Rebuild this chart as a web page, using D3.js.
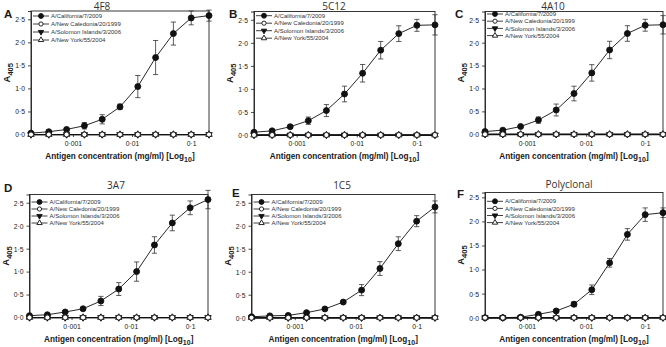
<!DOCTYPE html>
<html>
<head>
<meta charset="utf-8">
<script src="https://cdn.jsdelivr.net/npm/d3@7"></script>
<style>
  body { margin: 0; background: #fff; }
  svg { display: block; }
  text { font-family: "Liberation Sans", Arial, sans-serif; fill: #1a1a1a; }
  .title { font-family: "Open Sans", "Noto Sans", sans-serif; font-size: 10px; fill: #333; }
  .letter { font-weight: bold; font-size: 11.5px; }
  .axlabel { font-weight: bold; font-size: 8.2px; }
  .ylab { font-weight: bold; font-size: 9.5px; }
  .tick text { font-size: 6.8px; }
  .legend text { font-size: 6px; fill: #333; }
</style>
</head>
<body>
<div id="chart"></div>
<script>
// two-fold dilution series, mg/ml
var concentrations = [0.0001953125, 0.000390625, 0.00078125, 0.0015625, 0.003125, 0.00625, 0.0125, 0.025, 0.05, 0.1, 0.2];
var strains = ["A/California/7/2009", "A/New Caledonia/20/1999", "A/Solomon Islands/3/2006", "A/New York/55/2004"];
var antibodies = ["4F8", "5C12", "4A10", "3A7", "1C5", "Polyclonal"];
var panelLetters = ["A", "B", "C", "D", "E", "F"];

// A/California/7/2009 means and error per antibody
var california4F8 = [0.03, 0.06, 0.11, 0.19, 0.33, 0.60, 1.04, 1.67, 2.19, 2.53, 2.58];
var california4F8Err = [0.01, 0.02, 0.03, 0.07, 0.10, 0.06, 0.24, 0.37, 0.25, 0.15, 0.12];
var california5C12 = [0.06, 0.09, 0.18, 0.31, 0.53, 0.89, 1.34, 1.84, 2.20, 2.38, 2.39];
var california5C12Err = [0.01, 0.02, 0.03, 0.08, 0.13, 0.17, 0.19, 0.19, 0.17, 0.13, 0.22];
var california4A10 = [0.06, 0.09, 0.17, 0.31, 0.53, 0.89, 1.34, 1.84, 2.20, 2.38, 2.39];
var california4A10Err = [0.01, 0.02, 0.03, 0.07, 0.13, 0.16, 0.18, 0.19, 0.17, 0.13, 0.20];
var california3A7 = [0.04, 0.06, 0.12, 0.19, 0.36, 0.62, 1.00, 1.58, 2.06, 2.39, 2.57];
var california3A7Err = [0.01, 0.01, 0.02, 0.02, 0.10, 0.14, 0.21, 0.18, 0.17, 0.15, 0.20];
var california1C5 = [0.02, 0.04, 0.05, 0.11, 0.19, 0.34, 0.60, 1.07, 1.61, 2.10, 2.41];
var california1C5Err = [0.01, 0.01, 0.02, 0.02, 0.02, 0.03, 0.12, 0.15, 0.15, 0.12, 0.13];
var californiaPoly = [0.00, 0.00, 0.01, 0.07, 0.14, 0.28, 0.58, 1.14, 1.73, 2.14, 2.18];
var californiaPolyErr = [0.00, 0.00, 0.01, 0.02, 0.03, 0.05, 0.10, 0.09, 0.12, 0.14, 0.10];

// the other three strains stay at background in every panel
var newCaledonia = [0, 0, 0, 0, 0, 0, 0, 0, 0, 0, 0];
var solomonIslands = [0, 0, 0, 0, 0, 0, 0, 0, 0, 0, 0];
var newYork = [0, 0, 0, 0, 0, 0, 0, 0, 0, 0, 0];

var yTicks = [0, 0.5, 1, 1.5, 2, 2.5];
var yTickLabels = ["0·0", "0·5", "1·0", "1·5", "2·0", "2·5"];
var xTicks = [0.001, 0.01, 0.1];
var xTickLabels = ["0·001", "0·01", "0·1"];

var californiaMeans = [california4F8, california5C12, california4A10, california3A7, california1C5, californiaPoly];
var californiaErrs = [california4F8Err, california5C12Err, california4A10Err, california3A7Err, california1C5Err, californiaPolyErr];

// panel boxes in page pixels
var layout = [
  {x0: 31, x1: 209, top: 11, bottom: 134.5, ymax: 2.68, tx: 102, ty: 10, lx: 4, ly: 18, xl: 159, legY: 16, legDy: 8},
  {x0: 254, x1: 435, top: 11.5, bottom: 135, ymax: 2.68, tx: 334, ty: 10, lx: 229, ly: 18, xl: 159, legY: 15.7, legDy: 7.5},
  {x0: 485, x1: 663, top: 11.5, bottom: 134.3, ymax: 2.68, tx: 553, ty: 10, lx: 455, ly: 18, xl: 159, legY: 14, legDy: 7.2},
  {x0: 29.5, x1: 208, top: 194.5, bottom: 317.5, ymax: 2.68, tx: 116, ty: 189, lx: 4, ly: 192, xl: 342, legY: 202, legDy: 7},
  {x0: 251.5, x1: 435, top: 194.5, bottom: 317.7, ymax: 2.68, tx: 342, ty: 189, lx: 232, ly: 197, xl: 342, legY: 202, legDy: 7},
  {x0: 485, x1: 663, top: 192.5, bottom: 317.7, ymax: 2.6, tx: 569, ty: 188, lx: 457, ly: 198, xl: 342, legY: 201.3, legDy: 7.1}
];

var W = 666, H = 347;
var svg = d3.select("#chart").append("svg").attr("width", W).attr("height", H);
svg.append("rect").attr("width", W).attr("height", H).attr("fill", "#fff");

var symbolTypes = [
  {type: d3.symbolCircle, size: 28, fill: "#111"},
  {type: d3.symbolCircle, size: 20, fill: "#fff"},
  {type: d3.symbolTriangle, size: 18, fill: "#111", rot: 180},
  {type: d3.symbolTriangle, size: 18, fill: "#fff", rot: 0}
];

function drawMarker(g, x, y, s, k) {
  g.append("path")
    .attr("d", d3.symbol().type(s.type).size(s.size * (k || 1))())
    .attr("transform", "translate(" + x + "," + y + ")" + (s.rot ? " rotate(" + s.rot + ")" : ""))
    .attr("fill", s.fill)
    .attr("stroke", "#111")
    .attr("stroke-width", 0.9);
}

antibodies.forEach(function(name, p) {
  var L = layout[p];
  var g = svg.append("g");

  var xScale = d3.scaleLog()
    .domain([concentrations[0], concentrations[concentrations.length - 1]])
    .range([L.x0, L.x1]);
  var yScale = d3.scaleLinear()
    .domain([0, L.ymax])
    .range([L.bottom, L.top]);

  // frame
  g.append("rect")
    .attr("x", L.x0).attr("y", L.top)
    .attr("width", L.x1 - L.x0).attr("height", L.bottom - L.top)
    .attr("fill", "none").attr("stroke", "#222").attr("stroke-width", 0.9);

  var yAxis = g.append("g")
    .attr("transform", "translate(" + L.x0 + ",0)")
    .call(d3.axisLeft(yScale).tickValues(yTicks).tickSize(3).tickPadding(3)
      .tickFormat(function(d, i) { return yTickLabels[i]; }));
  var xAxis = g.append("g")
    .attr("transform", "translate(0," + L.bottom + ")")
    .call(d3.axisBottom(xScale).tickValues(xTicks).tickSize(2.5).tickPadding(4)
      .tickFormat(function(d, i) { return xTickLabels[i]; }));
  [yAxis, xAxis].forEach(function(a) {
    a.select(".domain").attr("stroke", "#222").attr("stroke-width", 0.9);
    a.selectAll(".tick line").attr("stroke", "#222").attr("stroke-width", 0.8);
    a.selectAll(".tick text").attr("font-family", null).attr("font-size", null);
  });
  yAxis.selectAll(".tick text").attr("dy", "0.35em");

  // titles and labels
  g.append("text").attr("class", "title")
    .attr("x", L.tx).attr("y", L.ty).attr("text-anchor", "middle").text(name);
  g.append("text").attr("class", "letter")
    .attr("x", L.lx).attr("y", L.ly).text(panelLetters[p]);

  var yl = g.append("text").attr("class", "ylab")
    .attr("transform", "translate(" + (L.x0 - 21) + "," + ((L.top + L.bottom) / 2) + ") rotate(-90)")
    .attr("text-anchor", "middle");
  yl.append("tspan").text("A");
  yl.append("tspan").attr("font-size", "7.5px").attr("dy", "3").text("405");

  var xl = g.append("text").attr("class", "axlabel")
    .attr("x", (L.x0 + L.x1) / 2).attr("y", L.xl).attr("text-anchor", "middle");
  xl.append("tspan").text("Antigen concentration (mg/ml) [Log");
  xl.append("tspan").attr("font-size", "7px").attr("dy", "2.5").text("10");
  xl.append("tspan").attr("dy", "-2.5").text("]");

  // series
  var line = d3.line()
    .x(function(d) { return xScale(d.c); })
    .y(function(d) { return yScale(d.v); });

  var means = californiaMeans[p], errs = californiaErrs[p];
  var calData = concentrations.map(function(c, i) { return {c: c, v: means[i], e: errs[i]}; });

  var zeroSets = [newYork, solomonIslands, newCaledonia];
  var zeroSyms = [symbolTypes[3], symbolTypes[2], symbolTypes[1]];

  // California line, error bars, markers
  g.append("path").datum(calData).attr("d", line)
    .attr("fill", "none").attr("stroke", "#111").attr("stroke-width", 0.9);

  calData.forEach(function(d) {
    if (d.e <= 0.015) return;
    var x = xScale(d.c), y1 = yScale(d.v + d.e), y2 = yScale(d.v - d.e);
    g.append("line").attr("x1", x).attr("x2", x).attr("y1", y1).attr("y2", y2)
      .attr("stroke", "#333").attr("stroke-width", 0.8);
    [y1, y2].forEach(function(yy) {
      g.append("line").attr("x1", x - 2.6).attr("x2", x + 2.6).attr("y1", yy).attr("y2", yy)
        .attr("stroke", "#333").attr("stroke-width", 0.8);
    });
  });
  calData.forEach(function(d) { drawMarker(g, xScale(d.c), yScale(d.v), symbolTypes[0]); });

  zeroSets.forEach(function(vals, k) {
    var data = concentrations.map(function(c, i) { return {c: c, v: vals[i]}; });
    g.append("path").datum(data).attr("d", line)
      .attr("fill", "none").attr("stroke", "#111").attr("stroke-width", 0.9);
    data.forEach(function(d) { drawMarker(g, xScale(d.c), yScale(d.v), zeroSyms[k]); });
  });

  // legend
  var lg = g.append("g").attr("class", "legend");
  strains.forEach(function(s, i) {
    var yy = L.legY + i * L.legDy;
    lg.append("line").attr("x1", L.x0 + 2).attr("x2", L.x0 + 18).attr("y1", yy).attr("y2", yy)
      .attr("stroke", "#111").attr("stroke-width", 0.8);
    drawMarker(lg, L.x0 + 10, yy, symbolTypes[i], 0.7);
    lg.append("text").attr("x", L.x0 + 20).attr("y", yy).attr("dy", "0.35em").text(s);
  });
});
</script>
</body>
</html>
